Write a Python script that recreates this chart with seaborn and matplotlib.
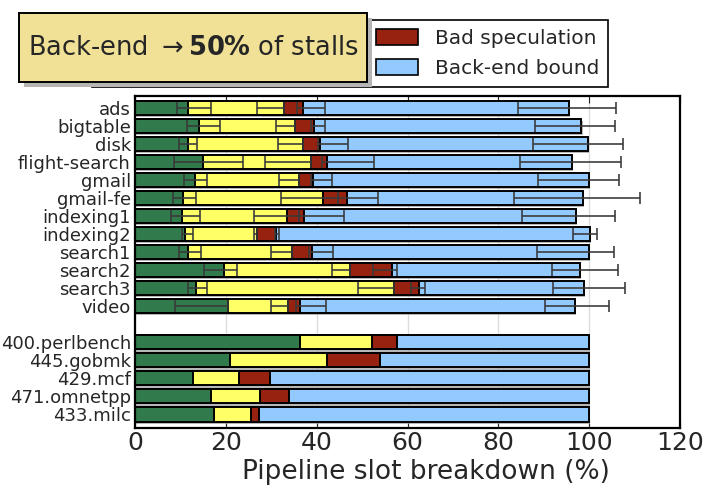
import matplotlib
matplotlib.use("Agg")
import matplotlib.pyplot as plt
import matplotlib.patheffects as pe
from matplotlib.patches import Patch, Rectangle
import numpy as np
import pandas as pd
import seaborn as sns

# ---------------- data ----------------
workloads = ['ads', 'bigtable', 'disk', 'flight-search', 'gmail', 'gmail-fe',
             'indexing1', 'indexing2', 'search1', 'search2', 'search3', 'video']
wl_retiring = [11.6, 14.1, 11.6, 15.0, 13.2, 10.6, 10.4, 11.1, 11.7, 19.7, 13.5, 20.4]
wl_frontend = [21.1, 21.2, 25.3, 23.8, 22.9, 30.7, 23.1, 15.8, 22.9, 27.7, 43.5, 13.3]
wl_badspec = [4.3, 4.1, 3.8, 3.4, 3.1, 5.3, 3.8, 4.2, 4.3, 9.2, 5.6, 2.7]
wl_backend = [58.6, 58.9, 59.0, 54.1, 60.8, 52.0, 59.8, 69.0, 61.1, 41.4, 36.2, 60.4]

# error extents (lower, upper) at each cumulative boundary
err1_lo = [2.3, 2.6, 1.9, 6.5, 2.5, 2.2, 2.5, 0.7, 2.0, 4.5, 1.8, 11.5]
err1_hi = [5.1, 4.6, 2.1, 8.7, 2.7, 2.9, 3.9, 1.7, 2.8, 2.8, 2.3, 0.0]
err2_lo = [5.9, 4.3, 5.4, 10.2, 4.3, 9.2, 7.3, 0.8, 4.7, 4.0, 7.9, 3.8]
err2_hi = [0.0, 0.0, 0.0, 0.0, 0.0, 3.3, 2.5, 0.0, 0.0, 0.0, 0.0, 0.0]
err3_lo = [1.3, 0.6, 0.5, 1.0, 0.5, 2.0, 1.3, 0.3, 0.5, 4.2, 1.8, 0.9]
err3_hi = [4.8, 2.5, 6.1, 10.4, 4.1, 6.8, 8.7, 0.5, 4.8, 1.0, 1.3, 5.6]
err4_lo = [11.2, 10.2, 12.1, 11.6, 11.3, 15.2, 11.9, 3.7, 11.4, 6.1, 6.7, 6.6]
err4_hi = [10.2, 7.3, 7.8, 10.6, 6.6, 12.5, 8.5, 1.7, 5.5, 8.4, 9.0, 7.5]

spec = ['400.perlbench', '445.gobmk', '429.mcf', '471.omnetpp', '433.milc']
spec_retiring = [36.4, 20.9, 12.8, 16.7, 17.4]
spec_frontend = [15.7, 21.3, 10.2, 10.8, 8.2]
spec_badspec = [5.6, 11.8, 6.7, 6.3, 1.6]
spec_backend = [42.3, 46.0, 70.3, 66.2, 72.8]

components = ['Retiring', 'Front-end bound', 'Bad speculation', 'Back-end bound']
colors = ['#317a4c', '#ffff66', '#96220f', '#92c9ff']

annotation = 'Back-end ${\\rightarrow}\\mathbf{50\\%}$ of stalls'
xlabel = 'Pipeline slot breakdown (%)'
xticks = [0, 20, 40, 60, 80, 100, 120]

# ---------------- frame ----------------
names = workloads + spec
df = pd.DataFrame({
    'name': names,
    'Retiring': wl_retiring + spec_retiring,
    'Front-end bound': wl_frontend + spec_frontend,
    'Bad speculation': wl_badspec + spec_badspec,
    'Back-end bound': wl_backend + spec_backend,
})
cum = df[components].cumsum(axis=1)
order = workloads + [' '] + spec

sns.set_style('white')
plt.rcParams['font.family'] = ['DejaVu Sans']

fig = plt.figure(figsize=(7.04, 4.88), dpi=100)
ax = fig.add_axes([135 / 704, 1 - 428 / 488, 545 / 704, 332 / 488])

# draw cumulative layers from largest to smallest
for i in range(3, -1, -1):
    d = pd.DataFrame({'name': df['name'], 'v': cum[components[i]]})
    n_before = len(ax.patches)
    sns.barplot(data=d, x='v', y='name', order=order, orient='h',
                color=colors[i], saturation=1, edgecolor='black',
                linewidth=1.4, width=0.78, errorbar=None, ax=ax)
    if i == 3:
        for p in ax.patches[n_before:]:
            p.set_path_effects([pe.SimplePatchShadow(offset=(0.8, -1.6),
                                                     shadow_rgbFace='0.6', alpha=0.7),
                                pe.Normal()])

# error bars for workloads
pos = np.array([order.index(w) for w in workloads])
wcum = cum.iloc[:len(workloads)]
for comp, lo, hi in zip(components,
                        [err1_lo, err2_lo, err3_lo, err4_lo],
                        [err1_hi, err2_hi, err3_hi, err4_hi]):
    ax.errorbar(wcum[comp].values, pos, xerr=[lo, hi], fmt='none',
                ecolor='#3a3a3a', elinewidth=1.3, capsize=4, capthick=1.3,
                alpha=0.9, zorder=6)

ax.set_xlim(0, 120)
ax.set_ylim(len(order) - 0.25, -0.65)
ypos = [order.index(n) for n in names]
ax.set_yticks(ypos)
ax.set_yticklabels(names, fontsize=13)
ax.set_xticks(xticks)
ax.set_xticklabels([str(t) for t in xticks], fontsize=18)
ax.set_xlabel(xlabel, fontsize=19)
ax.xaxis.set_label_coords((426 - 135) / 545, -0.092)
ax.set_ylabel('')
ax.tick_params(axis='y', direction='in', length=3, left=True, pad=3)
ax.tick_params(axis='x', direction='in', length=5, top=True, bottom=True, pad=2)
ax.grid(axis='x', color='#dcdcdc', lw=1)
ax.grid(axis='y', visible=False)
ax.set_axisbelow(True)
for s in ax.spines.values():
    s.set_visible(True)
    s.set_color('black')
    s.set_linewidth(1.6)

# legend (left column hidden behind annotation box)
handles = [Patch(facecolor=c, edgecolor='black', linewidth=1.2) for c in colors]
leg = fig.legend(handles, components, ncol=2, loc='upper right',
                 bbox_to_anchor=(608 / 704, 1 - 20 / 488), borderaxespad=0,
                 fontsize=14.5, frameon=True, fancybox=False, framealpha=1,
                 edgecolor='black', handlelength=2.1, handleheight=0.85,
                 labelspacing=0.55, columnspacing=2.5, borderpad=0.45)
leg.get_frame().set_linewidth(1.2)
leg.set_zorder(5)

# annotation box with shadow
bx0, by0, bx1, by1 = 19, 13, 367, 82
fig.add_artist(Rectangle(((bx0 + 5) / 704, 1 - (by1 + 5) / 488),
                         (bx1 - bx0) / 704, (by1 - by0) / 488,
                         transform=fig.transFigure, facecolor='#b5b5b5',
                         edgecolor='none', zorder=10))
fig.add_artist(Rectangle((bx0 / 704, 1 - by1 / 488),
                         (bx1 - bx0) / 704, (by1 - by0) / 488,
                         transform=fig.transFigure, facecolor='#f0e196',
                         edgecolor='black', linewidth=1.4, zorder=11))
fig.text((bx0 + bx1) / 2 / 704, 1 - 48 / 488, annotation, fontsize=18.5,
         ha='center', va='center', zorder=12)

fig.savefig('out.png', dpi=100)
